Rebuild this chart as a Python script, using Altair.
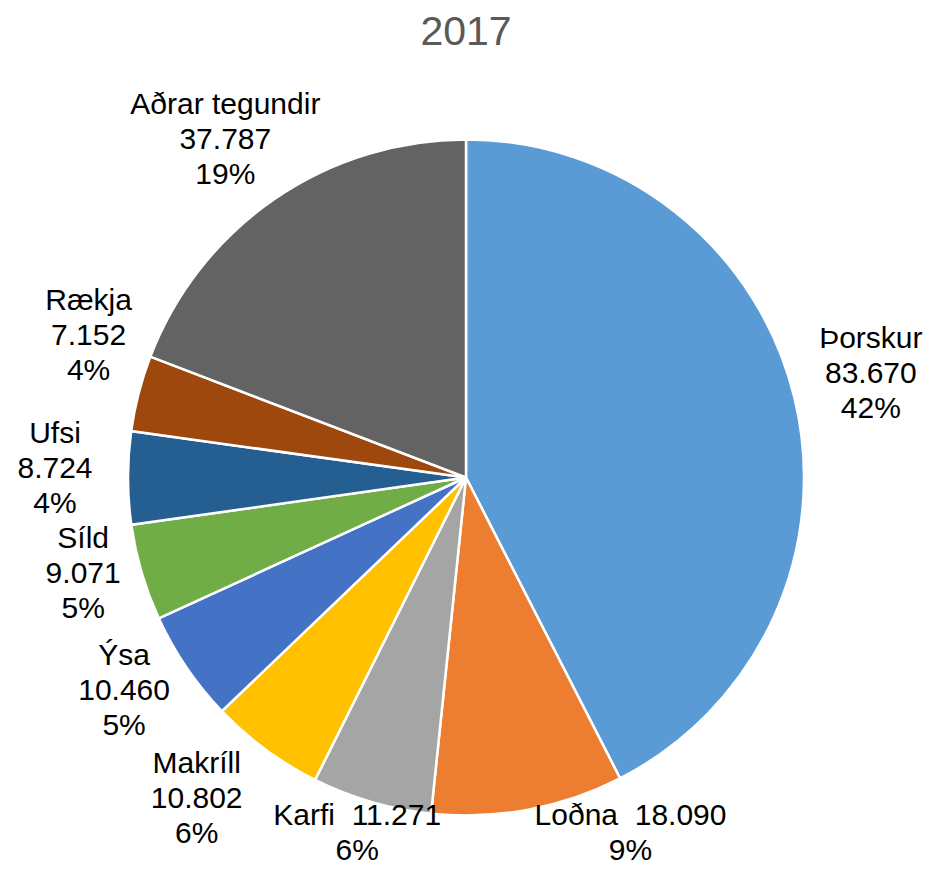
import altair as alt
import pandas as pd

categories = ["Þorskur", "Loðna", "Karfi", "Makríll", "Ýsa", "Síld", "Ufsi", "Rækja", "Aðrar tegundir"]
values = [83670, 18090, 11271, 10802, 10460, 9071, 8724, 7152, 37787]
value_labels = ["\u00a083.670", "18.090", "11.271", "10.802", "10.460", "9.071", "8.724", "7.152", "37.787"]
pct_labels = ["42%", "9%", "6%", "6%", "5%", "5%", "4%", "4%", "19%"]
colors = ["#5B9BD5", "#ED7D31", "#A5A5A5", "#FFC000", "#4472C4", "#70AD47", "#255E91", "#9E480E", "#636363"]
title_text = ["2017"]

two_line = {"Karfi", "Loðna"}
labels = []
for c, v, p in zip(categories, value_labels, pct_labels):
    if c in two_line:
        labels.append(f"{c}\u00a0\u00a0{v}\n{p}")
    else:
        labels.append(f"{c}\n{v}\n{p}")

df = pd.DataFrame({
    "i": list(range(len(categories))),
    "cat": categories,
    "value": values,
    "label": labels,
})

FONT = "Liberation Sans"
LABEL_R = 400
# label nudges (dx, dy) from the slice bisector, per category index
nudges = {0: (16, -45), 1: (91, -55), 2: (3, -46), 3: (-32, -35), 4: (-11, -46),
          5: (1, -51), 6: (-11, -44), 7: (10, -77), 8: (-14, -43)}

base = alt.Chart(df).encode(
    theta=alt.Theta("value:Q", stack=True),
    order=alt.Order("i:Q"),
)

pie = base.mark_arc(outerRadius=338, stroke="white", strokeWidth=2.5).encode(
    color=alt.Color("cat:N", scale=alt.Scale(domain=categories, range=colors), legend=None)
)

layers = [pie]
for idx, (dx, dy) in nudges.items():
    layers.append(
        base.transform_calculate(t=f"datum.i == {idx} ? datum.label : ''")
        .mark_text(radius=LABEL_R, dx=dx, dy=dy, font=FONT, fontSize=30, lineHeight=35,
                   lineBreak="\n", align="center", baseline="middle", color="#000000")
        .encode(text="t:N")
    )

title = alt.Chart(pd.DataFrame({"t": title_text})).mark_text(
    font=FONT, fontSize=41, color="#595959", align="center", baseline="alphabetic"
).encode(text="t:N", x=alt.value(458), y=alt.value(-43))
layers.append(title)

chart = alt.layer(*layers).properties(
    width=916,
    height=779,
    padding={"left": 0, "top": 80, "right": 0, "bottom": 0},
    autosize=alt.AutoSizeParams(type="none"),
).configure_view(stroke=None)

chart.save("out.html", embed_options={"renderer": "svg", "actions": False})
